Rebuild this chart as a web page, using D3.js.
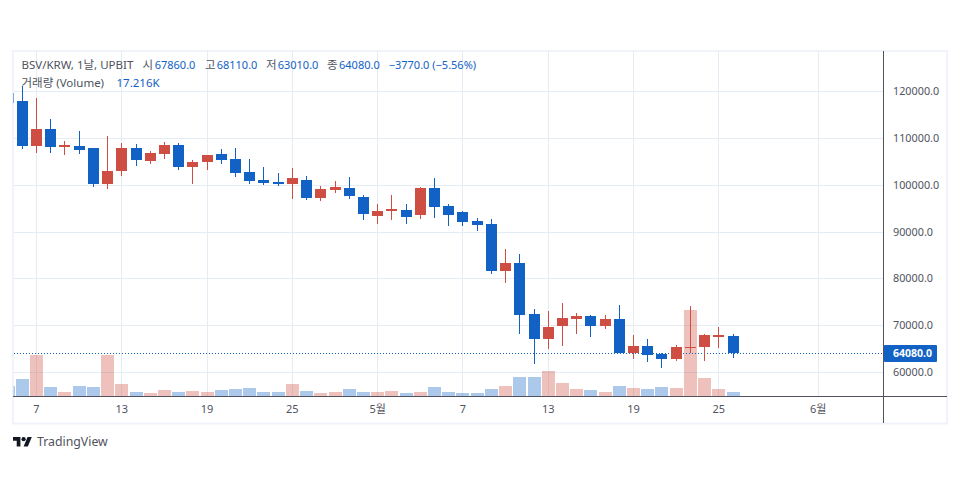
<!DOCTYPE html>
<html>
<head>
<meta charset="utf-8">
<script src="https://cdnjs.cloudflare.com/ajax/libs/d3/7.8.5/d3.min.js"></script>
<style>
  html, body { margin: 0; padding: 0; background: #fff; }
  text { font-family: "Noto Sans", "Noto Sans CJK KR", sans-serif; }
</style>
</head>
<body>
<div id="chart"></div>
<script>
// Candle data, index -1 is the candle cut off by the left edge
let days = d3.range(-1, 51);
let opens = [119630, 117990, 108380, 112010, 108160, 108380, 107950, 100260, 103030, 107950, 105170, 106670, 108590, 103890, 104960, 106670, 105600, 102820, 101110, 100680, 100250, 101110, 97260, 98970, 99400, 97480, 93420, 94490, 94700, 93630, 99400, 95550, 94270, 92350, 91710, 81660, 83370, 72470, 67130, 69910, 71410, 72050, 69910, 71410, 64140, 65640, 63930, 62860, 65210, 65420, 67560, 67860];
let highs = [119630, 121200, 118630, 114150, 109440, 111580, 107950, 110510, 109020, 108800, 107310, 109230, 109020, 105380, 106450, 107740, 107950, 105600, 103890, 102610, 103670, 101960, 99830, 100900, 101750, 97900, 95980, 97900, 95980, 99610, 101540, 95980, 94490, 92990, 92780, 86370, 85300, 73540, 73120, 74830, 72690, 72260, 72260, 74400, 67990, 67130, 64140, 65850, 74180, 68200, 69700, 68110];
let lows = [117640, 107810, 106880, 106880, 106450, 106670, 99620, 99190, 101970, 104100, 104530, 105600, 103250, 100260, 103250, 104530, 101750, 100260, 100040, 99830, 97050, 96840, 96620, 98330, 97050, 92560, 91710, 92560, 91710, 92780, 92990, 91280, 91280, 90210, 81020, 79100, 68200, 61790, 65000, 65640, 68200, 67560, 69270, 64140, 62860, 62220, 60940, 62430, 64140, 62430, 65210, 63010];
let closes = [117640, 108380, 112010, 108160, 108590, 107520, 100260, 103030, 107950, 105380, 106880, 108590, 103890, 104960, 106450, 105380, 102610, 100900, 100470, 100250, 101540, 97260, 99190, 99610, 97690, 93840, 94490, 94910, 93200, 99400, 95340, 93630, 92130, 91490, 81660, 83370, 72260, 67130, 69700, 71620, 72050, 69910, 71410, 64140, 65640, 63710, 62860, 65420, 65420, 67990, 67990, 64080];
// traded volume in thousands
let volumes = [44, 74, 178, 40, 19, 44, 40, 178, 53, 19, 14, 27, 19, 23, 19, 27, 31, 36, 19, 19, 53, 23, 14, 19, 31, 19, 19, 23, 14, 19, 40, 19, 14, 14, 30, 43, 82, 82, 108, 56, 30, 26, 17, 43, 34, 30, 39, 34, 370, 77, 30, 17.216];
let upFlags = closes.map((c, i) => c >= opens[i]);

let priceTicks = [60000, 70000, 80000, 90000, 100000, 110000, 120000];
let timeTickDays = [1, 7, 13, 19, 25, 31, 37, 43, 49, 56];
let timeTickLabels = ["7", "13", "19", "25", "5월", "7", "13", "19", "25", "6월"];
let lastPrice = 64080;

// legend, first row
let legendLabels = ["BSV/KRW, 1날, UPBIT", "시", "67860.0", "고", "68110.0", "저", "63010.0", "종", "64080.0", "−3770.0 (−5.56%)"];
let legendIsValue = [false, false, true, false, true, false, true, false, true, true];
let legendStarts = [21.5, 142.5, 154.7, 205, 216.7, 266, 277.7, 327, 339, 388.7];

let colors = { up: "#ce4e43", down: "#1261c4", grid: "#e3edf3", axis: "#50535e", frame: "#f0f3fa", text: "#50535e" };

let svgWidth = 960;
let svgHeight = 500;

let plot = { left: 13.5, right: 883.5, top: 51, bottom: 396.5 };

let svg = d3.select("#chart")
    .append("svg")
    .attr("width", svgWidth)
    .attr("height", svgHeight)
    .style("display", "block");

// x: one step per day, about 14.2px apart
let xScale = d3.scaleLinear()
    .domain([0, 50])
    .range([22.3, 733]);

let yScale = d3.scaleLinear()
    .domain([60000, 120000])
    .range([372.4, 91.6]);

let volumeScale = d3.scaleLinear()
    .domain([0, 370])
    .range([396.3, 310.3]);

// snap to the pixel so lines stay 1px wide
let snap = v => Math.floor(v) + 0.5;

svg.append("defs").append("clipPath")
    .attr("id", "plotClip")
    .append("rect")
    .attr("x", plot.left)
    .attr("y", plot.top)
    .attr("width", plot.right - plot.left)
    .attr("height", plot.bottom - plot.top);

// outer frame
svg.append("rect")
    .attr("x", 13)
    .attr("y", 51)
    .attr("width", 934)
    .attr("height", 372.5)
    .attr("fill", "#fff")
    .attr("stroke", colors.frame)
    .attr("stroke-width", 2);

// grid lines
let grid = svg.append("g").attr("clip-path", "url(#plotClip)");

grid.selectAll(".hgrid")
    .data(priceTicks)
    .join("line")
    .attr("x1", plot.left)
    .attr("x2", plot.right)
    .attr("y1", d => snap(yScale(d)))
    .attr("y2", d => snap(yScale(d)))
    .attr("stroke", colors.grid)
    .attr("stroke-width", 1);

grid.selectAll(".vgrid")
    .data(timeTickDays)
    .join("line")
    .attr("x1", d => snap(xScale(d)))
    .attr("x2", d => snap(xScale(d)))
    .attr("y1", plot.top)
    .attr("y2", plot.bottom)
    .attr("stroke", colors.grid)
    .attr("stroke-width", 1);

let chartGroup = svg.append("g").attr("clip-path", "url(#plotClip)");

// volume bars
chartGroup.selectAll(".vol")
    .data(days)
    .join("rect")
    .attr("x", d => Math.floor(xScale(d)) - 6)
    .attr("y", (d, i) => Math.round(volumeScale(volumes[i])))
    .attr("width", 13)
    .attr("height", (d, i) => 396 - Math.round(volumeScale(volumes[i])))
    .attr("fill", (d, i) => upFlags[i] ? colors.up : colors.down)
    .attr("opacity", 0.35);

// last price line, starts on a whole pixel so the dots stay sharp
chartGroup.append("line")
    .attr("x1", 14)
    .attr("x2", plot.right)
    .attr("y1", snap(yScale(lastPrice)))
    .attr("y2", snap(yScale(lastPrice)))
    .attr("stroke", colors.down)
    .attr("stroke-width", 1)
    .attr("stroke-dasharray", "1 2");

// wicks
chartGroup.selectAll(".wick")
    .data(days)
    .join("line")
    .attr("x1", d => snap(xScale(d)))
    .attr("x2", d => snap(xScale(d)))
    .attr("y1", (d, i) => Math.round(yScale(highs[i])))
    .attr("y2", (d, i) => Math.round(yScale(lows[i])))
    .attr("stroke", (d, i) => upFlags[i] ? colors.up : colors.down)
    .attr("stroke-width", 1);

// candle bodies
chartGroup.selectAll(".body")
    .data(days)
    .join("rect")
    .attr("x", d => Math.floor(xScale(d)) - 5)
    .attr("y", (d, i) => Math.round(yScale(Math.max(opens[i], closes[i]))))
    .attr("width", 11)
    .attr("height", (d, i) => Math.max(1, Math.round(yScale(Math.min(opens[i], closes[i]))) - Math.round(yScale(Math.max(opens[i], closes[i])))))
    .attr("fill", (d, i) => upFlags[i] ? colors.up : colors.down);

// axes lines
svg.append("line")
    .attr("x1", 13).attr("x2", 947)
    .attr("y1", plot.bottom).attr("y2", plot.bottom)
    .attr("stroke", colors.axis);
svg.append("line")
    .attr("x1", plot.right).attr("x2", plot.right)
    .attr("y1", 51).attr("y2", 423)
    .attr("stroke", colors.axis);

// price labels
svg.selectAll(".priceLabel")
    .data(priceTicks)
    .join("text")
    .attr("x", 893)
    .attr("y", d => yScale(d) + 3.5)
    .attr("font-size", 10.8)
    .attr("fill", colors.text)
    .text(d => d3.format(".1f")(d));

// time labels
svg.selectAll(".timeLabel")
    .data(timeTickDays)
    .join("text")
    .attr("x", d => xScale(d))
    .attr("y", 413)
    .attr("text-anchor", "middle")
    .attr("font-size", 11)
    .attr("fill", colors.text)
    .text((d, i) => timeTickLabels[i]);

// last price badge
svg.append("rect")
    .attr("x", 884)
    .attr("y", 345)
    .attr("width", 53)
    .attr("height", 17)
    .attr("rx", 1)
    .attr("fill", colors.down);
svg.append("text")
    .attr("x", 893)
    .attr("y", yScale(lastPrice) + 3.8)
    .attr("font-size", 10.5)
    .attr("font-weight", 700)
    .attr("fill", "#fff")
    .text(d3.format(".1f")(lastPrice));

// legend, first row
svg.selectAll(".legendTop")
    .data(legendLabels)
    .join("text")
    .attr("x", (d, i) => legendStarts[i])
    .attr("y", 69)
    .attr("font-size", (d, i) => legendIsValue[i] ? 11 : 11.5)
    .attr("fill", (d, i) => legendIsValue[i] ? colors.down : colors.text)
    .text(d => d);

// legend, second row
svg.append("text")
    .attr("x", 21.5)
    .attr("y", 87)
    .attr("font-size", 11.5)
    .attr("fill", colors.text)
    .text("거래량 (Volume)");
svg.append("text")
    .attr("x", 116.5)
    .attr("y", 87)
    .attr("font-size", 11.5)
    .attr("fill", colors.down)
    .text("17.216K");

// TradingView logo
let logo = svg.append("g")
    .attr("transform", "translate(13,434.9) scale(0.53)")
    .attr("fill", "#131722");
logo.append("path").attr("d", "M14 22H7V11H0V4h14v18zM28 22h-8l7.5-18h8L28 22z");
logo.append("circle").attr("cx", 20).attr("cy", 8).attr("r", 4);
svg.append("text")
    .attr("x", 37)
    .attr("y", 446)
    .attr("font-size", 12.3)
    .attr("fill", "#50535e")
    .text("TradingView");
</script>
</body>
</html>
